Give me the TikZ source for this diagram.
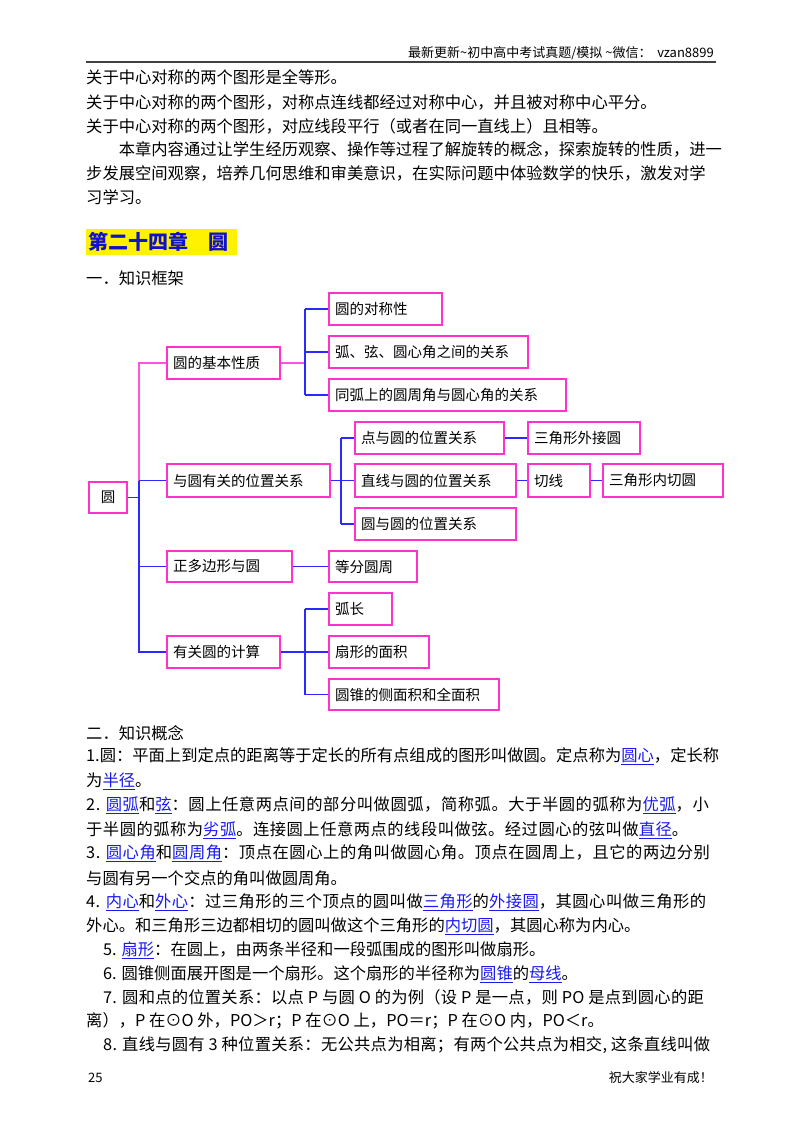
\documentclass[tikz,border=0pt]{standalone}
\usepackage{fontspec}
\setmainfont{Noto Sans CJK SC}
\definecolor{boxmag}{HTML}{FF33CC}
\definecolor{pinkl}{HTML}{FF55DD}
\definecolor{bluel}{HTML}{2A2AFF}
\definecolor{linkb}{HTML}{1A1AEE}
\definecolor{headb}{HTML}{1010D0}
\newcommand{\lk}[1]{\textcolor{linkb}{\underline{#1}}}
\newcommand{\lsp}[1]{\addfontfeatures{LetterSpace=#1}}
\begin{document}
\begin{tikzpicture}[x=1pt,y=-1pt,
  box/.style={draw=boxmag,line width=1.4pt,align=left,inner xsep=6pt,inner ysep=0pt,font=\fontsize{14.5}{16}\selectfont},
  pl/.style={pinkl,line width=1.2pt},
  bl/.style={bluel,line width=1.2pt},
  txt/.style={anchor=west,inner sep=0pt,font=\fontsize{16.3}{18}\selectfont},
  small/.style={inner sep=0pt,font=\fontsize{13}{14}\selectfont}]
\useasboundingbox[fill=white] (0,0) rectangle (800,1129);
% header / footer
\node[small,anchor=east] (hd) at (714,53) {最新更新\textasciitilde 初中高中考试真题/模拟 \textasciitilde 微信：\ \ vzan8899};
\draw[line width=1.8pt,black!75] (86,62) -- (716,62);
\node[small,anchor=west] (pg) at (88,1078) {25};
\node[small,anchor=east] (ft) at (713,1078) {祝大家学业有成！};
% top text
\node[txt] (l1) at (86,77) {关于中心对称的两个图形是全等形。};
\node[txt] (l2) at (86,102) {关于中心对称的两个图形，对称点连线都经过对称中心，并且被对称中心平分。};
\node[txt] (l3) at (86,126) {关于中心对称的两个图形，对应线段平行（或者在同一直线上）且相等。};
\node[txt] (l4) at (86,149) {\hspace{2em}本章内容通过让学生经历观察、操作等过程了解旋转的概念，探索旋转的性质，进一};
\node[txt] (l5) at (86,173) {步发展空间观察，培养几何思维和审美意识，在实际问题中体验数学的快乐，激发对学};
\node[txt] (l6) at (86,197) {习学习。};
\fill[yellow] (86,229) rectangle (237,255);
\node[anchor=west,inner sep=0pt,text=headb,font=\fontsize{20}{22}\selectfont\bfseries] (ch) at (88,242) {第二十四章\hspace{1em}圆};
\node[txt] (s1) at (86,278) {一．知识框架};
% diagram boxes
\node[box,minimum width=38pt,minimum height=31pt] (r) at (108,497.5) {圆};
\node[box,text width=101pt,minimum height=32pt] (a) at (223.5,363) {圆的基本性质};
\node[box,text width=151pt,minimum height=33pt] (b) at (248.5,480.5) {与圆有关的位置关系};
\node[box,text width=113pt,minimum height=31pt] (c) at (229.5,566.5) {正多边形与圆};
\node[box,text width=101pt,minimum height=32pt] (d) at (223.5,652) {有关圆的计算};
\node[box,text width=101pt,minimum height=32pt] (a1) at (385.5,309) {圆的对称性};
\node[box,text width=187pt,minimum height=32pt] (a2) at (428.5,352) {弧、弦、圆心角之间的关系};
\node[box,text width=225pt,minimum height=32pt] (a3) at (447.5,395) {同弧上的圆周角与圆心角的关系};
\node[box,text width=137pt,minimum height=32pt] (b1) at (429.5,438) {点与圆的位置关系};
\node[box,text width=100pt,minimum height=32pt] (b1x) at (584,438) {三角形外接圆};
\node[box,text width=149pt,minimum height=33pt] (b2) at (435.5,480.5) {直线与圆的位置关系};
\node[box,text width=50pt,minimum height=33pt] (b2t) at (559,480.5) {切线};
\node[box,text width=108pt,minimum height=33pt] (b2x) at (663,480.5) {三角形内切圆};
\node[box,text width=149pt,minimum height=32pt] (b3) at (435.5,524) {圆与圆的位置关系};
\node[box,text width=76pt,minimum height=31pt] (c1) at (373,566.5) {等分圆周};
\node[box,text width=51pt,minimum height=32pt] (d1) at (360.5,609) {弧长};
\node[box,text width=88pt,minimum height=32pt] (d2) at (379,652) {扇形的面积};
\node[box,text width=158pt,minimum height=31pt] (d3) at (414,694.5) {圆锥的侧面积和全面积};
\coordinate (T) at (139,0);
\coordinate (T1) at (305,0);
\coordinate (T2) at (341,0);
% connectors
\draw[pl] (a.west) -- (a.west -| T) -- (b.west -| T);
\draw[bl] (b.west -| T) -- (d.west -| T) -- (d.west);
\draw[bl] (b.west) -- (b.west -| T);
\draw[bl] (c.west) -- (c.west -| T);
\draw[bl] (r.east) -- (r.east -| T);
\draw[pl] (a.east) -- (a.east -| T1);
\draw[bl] (a1.west -| T1) -- (a3.west -| T1);
\draw[bl] (a1.west) -- (a1.west -| T1);
\draw[bl] (a2.west) -- (a2.west -| T1);
\draw[bl] (a3.west) -- (a3.west -| T1);
\draw[bl] (b.east) -- (b.east -| T2);
\draw[bl] (b1.west -| T2) -- (b3.west -| T2);
\draw[bl] (b1.west) -- (b1.west -| T2);
\draw[bl] (b2.west) -- (b2.west -| T2);
\draw[bl] (b3.west) -- (b3.west -| T2);
\draw[bl] (b1.east) -- (b1x.west);
\draw[bl] (b2.east) -- (b2t.west);
\draw[bl] (b2t.east) -- (b2x.west);
\draw[bl] (c.east) -- (c1.west);
\draw[bl] (d.east) -- (d.east -| T1);
\draw[bl] (d1.west -| T1) -- (d3.west -| T1);
\draw[bl] (d1.west) -- (d1.west -| T1);
\draw[bl] (d2.west) -- (d2.west -| T1);
\draw[bl] (d3.west) -- (d3.west -| T1);
% concepts
\node[txt] (s2) at (86,733) {二．知识概念};
\node[txt] (k1) at (86,756) {1.圆：平面上到定点的距离等于定长的所有点组成的图形叫做圆。定点称为\lk{圆心}，定长称};
\node[txt] (k1b) at (86,781) {为\lk{半径}。};
\node[txt] (k2) at (86,805) {\lsp{3.3}2. \lk{圆弧}和\lk{弦}：圆上任意两点间的部分叫做圆弧，简称弧。大于半圆的弧称为\lk{优弧}，小};
\node[txt] (k2b) at (86,830) {\lsp{3.0}于半圆的弧称为\lk{劣弧}。连接圆上任意两点的线段叫做弦。经过圆心的弦叫做\lk{直径}。};
\node[txt] (k3) at (86,853) {\lsp{3.3}3. \lk{圆心角}和\lk{圆周角}：顶点在圆心上的角叫做圆心角。顶点在圆周上，且它的两边分别};
\node[txt] (k3b) at (86,878) {与圆有另一个交点的角叫做圆周角。};
\node[txt] (k4) at (86,902) {\lsp{3.0}4. \lk{内心}和\lk{外心}：过三角形的三个顶点的圆叫做\lk{三角形}的\lk{外接圆}，其圆心叫做三角形的};
\node[txt] (k4b) at (86,926) {外心。和三角形三边都相切的圆叫做这个三角形的\lk{内切圆}，其圆心称为内心。};
\node[txt] (k5) at (103,950) {5. \lk{扇形}：在圆上，由两条半径和一段弧围成的图形叫做扇形。};
\node[txt] (k6) at (103,974) {6. 圆锥侧面展开图是一个扇形。这个扇形的半径称为\lk{圆锥}的\lk{母线}。};
\node[txt] (k7) at (103,997) {\lsp{1.5}7. 圆和点的位置关系：以点 P 与圆 O 的为例（设 P 是一点，则 PO 是点到圆心的距};
\node[txt] (k7b) at (86,1021) {离），P 在⊙O 外，PO＞r；P 在⊙O 上，PO＝r；P 在⊙O 内，PO＜r。};
\node[txt] (k8) at (103,1045) {\lsp{1.6}8. 直线与圆有 3 种位置关系：无公共点为相离；有两个公共点为相交, 这条直线叫做};
\end{tikzpicture}
\end{document}
